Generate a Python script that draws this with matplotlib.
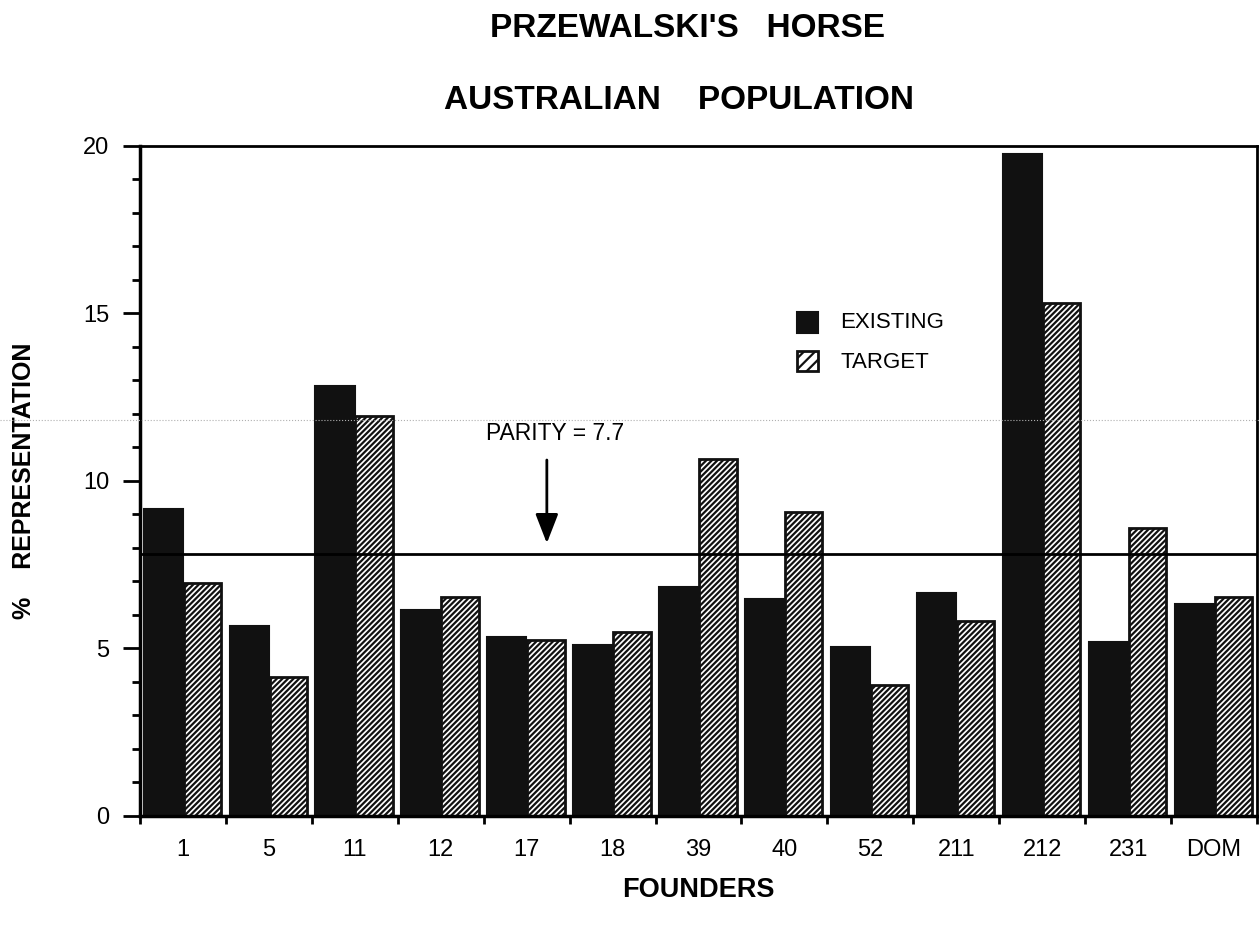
import matplotlib
matplotlib.use('Agg')
import matplotlib.pyplot as plt
import numpy as np
from matplotlib.patches import Rectangle
from matplotlib.lines import Line2D

# Data
founders = ['1', '5', '11', '12', '17', '18', '39', '40', '52', '211', '212', '231', 'DOM']
existing = [9.15, 5.66, 12.83, 6.14, 5.34, 5.10, 6.84, 6.46, 5.05, 6.64, 19.75, 5.19, 6.32]
target = [6.94, 4.13, 11.94, 6.54, 5.24, 5.47, 10.64, 9.07, 3.90, 5.81, 15.30, 8.60, 6.54]
parity_line = 7.8
parity_label = "PARITY = 7.7"

# Style
plt.rcParams['font.family'] = ['Liberation Sans', 'DejaVu Sans']
plt.rcParams['hatch.linewidth'] = 1.6
dark = '#111111'

fig = plt.figure(figsize=(12.59, 9.38), dpi=100)
ax = fig.add_axes([0.1112, 0.1304, 0.8872, 0.7143])

x = np.arange(len(founders))
w = 0.455
ax.bar(x - 0.23, existing, width=w, color=dark, edgecolor=dark, linewidth=1.5, zorder=2)
ax.bar(x + 0.225, target, width=w - 0.02, color='white', edgecolor=dark, linewidth=2,
       hatch='//////', zorder=2)

# parity line + arrow
ax.axhline(parity_line, color='black', linewidth=2, zorder=3)
ax.text(4.33, 11.42, parity_label, ha='center', va='center', fontsize=16.5)
ax.annotate('', xy=(4.235, 8.05), xytext=(4.235, 10.7),
            arrowprops=dict(arrowstyle='-|>,head_length=1.8,head_width=0.7',
                            color='black', lw=2))

# legend drawn by hand
ax.add_patch(Rectangle((0.588, 0.721), 0.0194, 0.031, transform=ax.transAxes,
                       facecolor=dark, edgecolor=dark, lw=1.5, clip_on=False))
ax.add_patch(Rectangle((0.588, 0.663), 0.0194, 0.031, transform=ax.transAxes,
                       facecolor='white', edgecolor=dark, lw=2, hatch='///', clip_on=False))
ax.text(0.627, 0.736, 'EXISTING', transform=ax.transAxes, va='center', fontsize=16)
ax.text(0.627, 0.677, 'TARGET', transform=ax.transAxes, va='center', fontsize=16)

# axes
ax.set_xlim(-0.5, len(founders) - 0.5)
ax.set_ylim(0, 20)
ax.set_yticks([0, 5, 10, 15, 20])
ax.set_yticks(np.arange(0, 21, 1), minor=True)
ax.set_xticks(x)
ax.set_xticklabels(founders)
ax.set_xticks(np.arange(-0.5, len(founders), 1), minor=True)
ax.tick_params(axis='y', which='major', direction='out', length=12, width=2,
               labelsize=17, pad=10)
ax.tick_params(axis='y', which='minor', direction='out', length=6, width=2)
ax.tick_params(axis='x', which='major', length=0, labelsize=17, pad=17)
ax.tick_params(axis='x', which='minor', direction='out', length=6, width=2)
for s in ax.spines.values():
    s.set_linewidth(2)
ax.spines['left'].set_linewidth(2.5)
ax.spines['bottom'].set_linewidth(2.5)

ax.set_xlabel('FOUNDERS', fontsize=19.5, fontweight='bold', labelpad=11)
ax.set_ylabel('%    REPRESENTATION', fontsize=18, fontweight='bold', labelpad=34)

# titles
fig.text(0.546, 0.970, "PRZEWALSKI'S   HORSE", ha='center', va='center',
         fontsize=24, fontweight='bold')
fig.text(0.539, 0.893, "AUSTRALIAN    POPULATION", ha='center', va='center',
         fontsize=24, fontweight='bold')

# faint scan line across the page
fig.add_artist(Line2D([0, 1], [0.5522, 0.5522], transform=fig.transFigure,
                      color='#b0b0b0', linestyle=':', linewidth=0.8))

plt.savefig('out.png', dpi=100)
